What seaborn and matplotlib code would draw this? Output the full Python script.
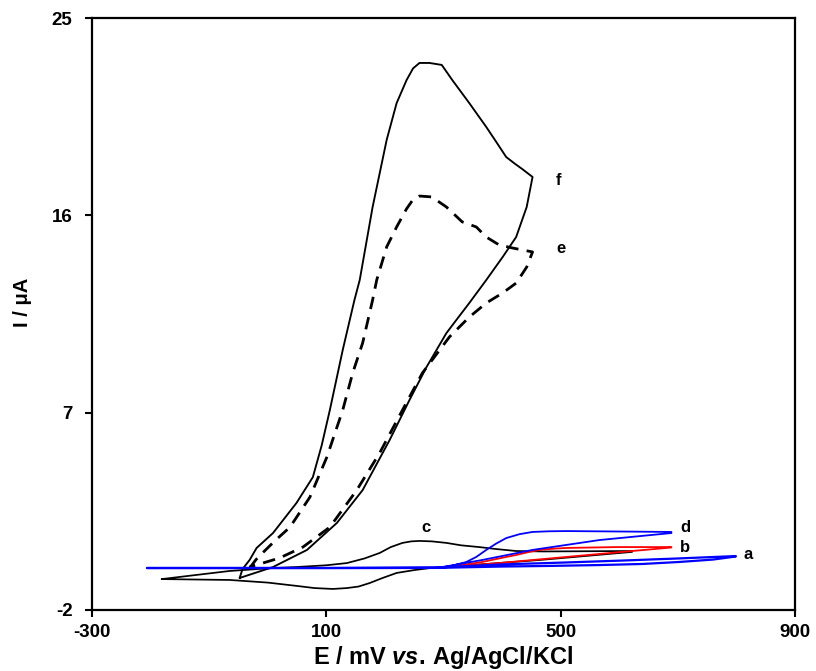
import numpy as np
import pandas as pd
import matplotlib
matplotlib.use("Agg")
import matplotlib.pyplot as plt
import seaborn as sns

# ---- data (E in mV, I in uA) ----
a_E = [-206, 100, 288, 400, 500, 600, 700, 799, 799, 760, 702, 640, 566, 480, 395, 288, 100, -206]
a_I = [-0.08, -0.08, -0.06, 0.08, 0.16, 0.25, 0.35, 0.46, 0.44, 0.30, 0.19, 0.10, 0.05, 0.01, -0.02, -0.08, -0.09, -0.09]

b_E = [-206, 288, 330, 366, 400, 424, 445, 464, 490, 510, 595, 689, 689, 622, 510, 395, 288]
b_I = [-0.09, -0.09, 0.04, 0.19, 0.38, 0.51, 0.64, 0.74, 0.80, 0.83, 0.87, 0.87, 0.85, 0.69, 0.42, 0.14, -0.09]

c_E = [-181, -65, 0, 49, 100, 135, 165, 191, 210, 230, 245, 259, 280, 305, 330, 361, 390, 424, 470, 622,
       622, 464, 276, 250, 220, 195, 174, 155, 135, 111, 80, 49, 0, -65, -181]
c_I = [-0.59, -0.22, -0.10, -0.04, 0.04, 0.14, 0.35, 0.60, 0.87, 1.06, 1.13, 1.15, 1.13, 1.06, 0.95, 0.87, 0.78, 0.69, 0.67, 0.69,
       0.65, 0.28, -0.09, -0.18, -0.31, -0.55, -0.77, -0.93, -1.00, -1.04, -1.00, -0.90, -0.75, -0.63, -0.59]

d_E = [288, 315, 339, 356, 373, 390, 407, 430, 452, 480, 510, 600, 689, 689, 566, 452, 366, 288]
d_I = [-0.09, 0.02, 0.19, 0.42, 0.74, 1.03, 1.28, 1.46, 1.56, 1.59, 1.60, 1.58, 1.56, 1.51, 1.19, 0.74, 0.28, -0.09]

e_E = [-31, -20, -9, 12, 38, 72, 101, 128, 145, 162, 179, 186, 203, 220, 237, 248, 259, 280,
       305, 332, 356, 373, 395, 418, 452,
       442, 424, 401, 373, 344, 310, 264, 230, 191, 152, 106, 60, 20, -31]
e_I = [-0.09, 0.30, 0.60, 1.15, 1.78, 3.15, 4.98, 7.12, 8.81, 10.18, 12.14, 13.05, 14.56, 15.47, 16.30, 16.72, 16.88, 16.84,
       16.38, 15.70, 15.47, 15.01, 14.65, 14.51, 14.33,
       13.64, 12.91, 12.46, 12.00, 11.36, 10.45, 8.81, 7.12, 5.16, 3.47, 1.78, 0.87, 0.37, -0.04]

f_E = [-48, -43, -31, -19, 9, 49, 77, 92, 106, 128, 148, 157, 179, 203, 220, 237, 248, 259, 276,
       297, 315, 344, 373, 390, 407, 422, 435, 452,
       442, 424, 401, 373, 344, 322, 305, 271, 242, 208, 162, 118, 67, 9, -48]
f_I = [-0.54, -0.13, 0.28, 0.83, 1.51, 2.88, 4.06, 5.50, 7.12, 9.86, 12.14, 13.05, 16.38, 19.44, 21.12, 22.17, 22.70, 22.95, 22.95,
       22.86, 22.17, 21.12, 20.03, 19.35, 18.66, 18.35, 18.10, 17.75,
       16.38, 15.01, 14.10, 13.05, 12.00, 11.23, 10.63, 9.08, 7.58, 5.75, 3.47, 1.97, 0.74, -0.04, -0.54]

labels = ["a", "b", "c", "d", "e", "f"]
label_E = [812, 704, 262, 704, 492, 492]
label_I = [0.55, 0.85, 1.75, 1.75, 14.5, 17.6]

x_ticks = [-300, 100, 500, 900]
y_ticks = [-2, 7, 16, 25]

# ---- style ----
sns.set_style("ticks")
plt.rcParams["font.family"] = ["Liberation Sans", "DejaVu Sans"]
plt.rcParams["mathtext.fontset"] = "custom"
plt.rcParams["mathtext.it"] = "Liberation Sans:italic:bold"
plt.rcParams["mathtext.rm"] = "Liberation Sans:bold"
plt.rcParams["text.color"] = "black"
plt.rcParams["axes.labelcolor"] = "black"
plt.rcParams["xtick.color"] = "black"
plt.rcParams["ytick.color"] = "black"
plt.rcParams["axes.edgecolor"] = "black"

fig = plt.figure(figsize=(8.16, 6.71), dpi=100)
ax = fig.add_axes([92 / 816, 1 - 610 / 671, (795 - 92) / 816, (610 - 18) / 671])

def curve(E, I, color, lw=1.2, ls="-", z=2):
    df = pd.DataFrame({"E": E, "I": I})
    sns.lineplot(data=df, x="E", y="I", sort=False, estimator=None,
                 color=color, lw=lw, ax=ax, zorder=z)
    line = ax.get_lines()[-1]
    line.set_solid_joinstyle("round")
    line.set_dash_joinstyle("round")
    if ls != "-":
        line.set_linestyle(ls)
    return line

curve(c_E, c_I, "black", 1.25, z=2)
curve(f_E, f_I, "black", 1.35, z=2)
curve(e_E, e_I, "black", 2.0, (0, (4.5, 3)), z=2)
curve(b_E, b_I, "#ff0000", 1.3, z=3)
curve(d_E, d_I, "#0000ff", 1.3, z=4)
curve(a_E, a_I, "#0000ff", 1.6, z=5)

for t, xe, yi in zip(labels, label_E, label_I):
    ax.text(xe, yi, t, fontsize=12, fontweight="bold", ha="left", va="center",
            color="black")

ax.set_xlim(-300, 900)
ax.set_ylim(-2, 25)
ax.set_xticks(x_ticks)
ax.set_yticks(y_ticks)
ax.set_xticklabels([str(v) for v in x_ticks], fontsize=13.5, fontweight="bold")
ax.set_yticklabels([str(v) for v in y_ticks], fontsize=13.5, fontweight="bold")
ax.tick_params(axis="both", direction="out", length=5, width=1.5, top=False, right=False)
ax.tick_params(axis="x", pad=5)
ax.tick_params(axis="y", pad=9)
for s in ax.spines.values():
    s.set_linewidth(1.6)
    s.set_visible(True)

ax.set_xlabel(r"E / mV $\it{vs.}\,$Ag/AgCl/KCl", fontsize=17, fontweight="bold")
ax.set_ylabel("I / \u03bcA", fontsize=14.5, fontweight="bold")
ax.xaxis.set_label_coords(0.499, -0.057)
ax.yaxis.set_label_coords(-0.085, 0.52)

fig.savefig("out.png", dpi=100)
